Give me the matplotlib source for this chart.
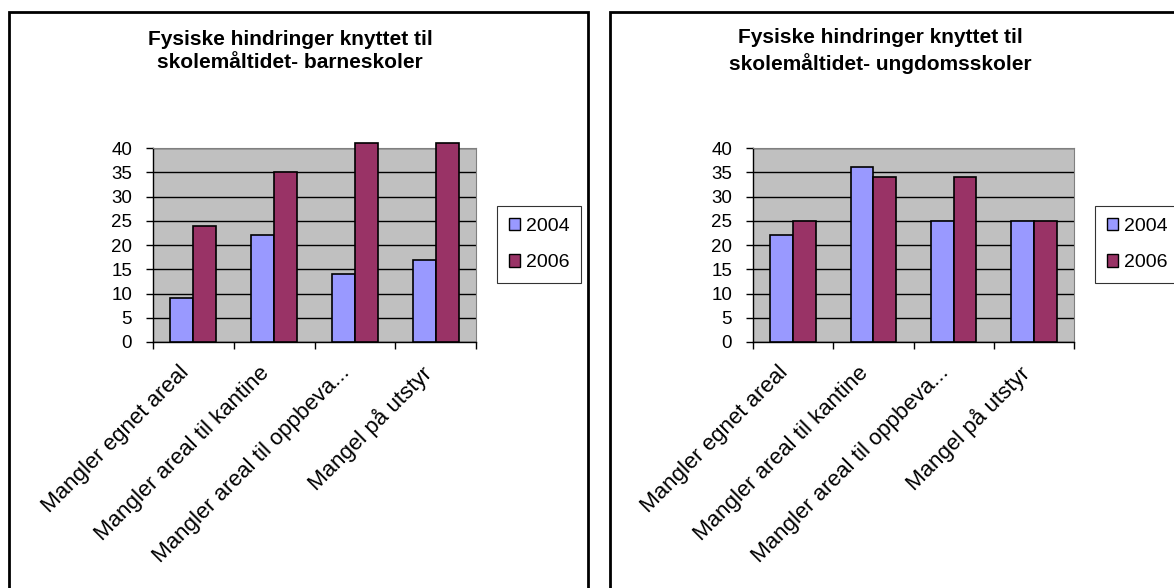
import numpy as np
import matplotlib.pyplot as plt
from matplotlib.patches import Rectangle, Patch

plt.rcParams['font.family'] = ['Liberation Sans', 'DejaVu Sans']

# Data
categories = ["Mangler egnet areal", "Mangler areal til kantine",
              "Mangler areal til oppbeva...", "Mangel på utstyr"]
years = ["2004", "2006"]
barne_2004 = [9, 22, 14, 17]
barne_2006 = [24, 35, 41, 41]
ungdom_2004 = [22, 36, 25, 25]
ungdom_2006 = [25, 34, 34, 25]
titles = ["Fysiske hindringer knyttet til\nskolemåltidet- barneskoler",
          "Fysiske hindringer knyttet til\nskolemåltidet- ungdomsskoler"]

c2004 = "#9999FF"
c2006 = "#993366"

fig = plt.figure(figsize=(11.74, 5.88), dpi=100)

# panel frames
for x0, x1 in [(9, 588), (610, 1190)]:
    fig.patches.append(Rectangle((x0 / 1174, -0.05), (x1 - x0) / 1174, 1.05 - 12 / 588,
                                 transform=fig.transFigure, fill=False,
                                 edgecolor="black", linewidth=2))

positions = [(153, 476), (753, 1074)]
series = [(barne_2004, barne_2006), (ungdom_2004, ungdom_2006)]
title_x = [290, 880]

for (px0, px1), (v04, v06), title, tx in zip(positions, series, titles, title_x):
    ax = fig.add_axes([px0 / 1174, 1 - 342 / 588, (px1 - px0) / 1174, 194 / 588])
    ax.set_facecolor("#C0C0C0")
    x = np.arange(len(categories))
    w = 0.285
    ax.bar(x - w / 2, v04, w, color=c2004, edgecolor="black", linewidth=1.2,
           zorder=3, clip_on=False)
    ax.bar(x + w / 2, v06, w, color=c2006, edgecolor="black", linewidth=1.2,
           zorder=3, clip_on=False)
    ax.set_xlim(-0.5, len(categories) - 0.5)
    ax.set_ylim(0, 40)
    ax.set_yticks(range(0, 41, 5))
    ax.yaxis.grid(True, color="black", linewidth=1, zorder=1)
    ax.set_axisbelow(True)

    # ticks at category boundaries, labels at centres
    ax.set_xticks(np.arange(-0.5, len(categories), 1.0))
    ax.set_xticklabels([])
    for xi, cat in zip(x, categories):
        ax.annotate(cat, xy=(xi, 0), xycoords=("data", "axes fraction"),
                    xytext=(-11, -14.5), textcoords="offset points",
                    rotation=45, ha="right", va="top", rotation_mode="anchor",
                    fontsize=16, annotation_clip=False)
    ax.tick_params(axis="x", which="major", length=5, width=1, direction="out")
    ax.tick_params(axis="y", length=5, width=1, labelsize=13.5, pad=10)

    for s in ["top", "right"]:
        ax.spines[s].set_color("#808080")
    for s in ["left", "bottom"]:
        ax.spines[s].set_color("black")
        ax.spines[s].set_linewidth(1)

    handles = [Patch(facecolor=c2004, edgecolor="black"),
               Patch(facecolor=c2006, edgecolor="black")]
    leg = ax.legend(handles, years, loc="upper left",
                    bbox_to_anchor=((px1 + 21 - px0) / (px1 - px0), 0.70),
                    fontsize=14, frameon=True, fancybox=False,
                    handlelength=0.6, handleheight=0.6, handletextpad=0.3,
                    labelspacing=1.0, borderpad=0.6, borderaxespad=0)
    leg.get_frame().set_edgecolor("black")
    leg.get_frame().set_linewidth(0.8)

    fig.text(tx / 1174, 1 - 51 / 588, title, ha="center", va="center",
             fontsize=15, fontweight="bold", linespacing=1.3)

fig.savefig("out.png", dpi=100)
